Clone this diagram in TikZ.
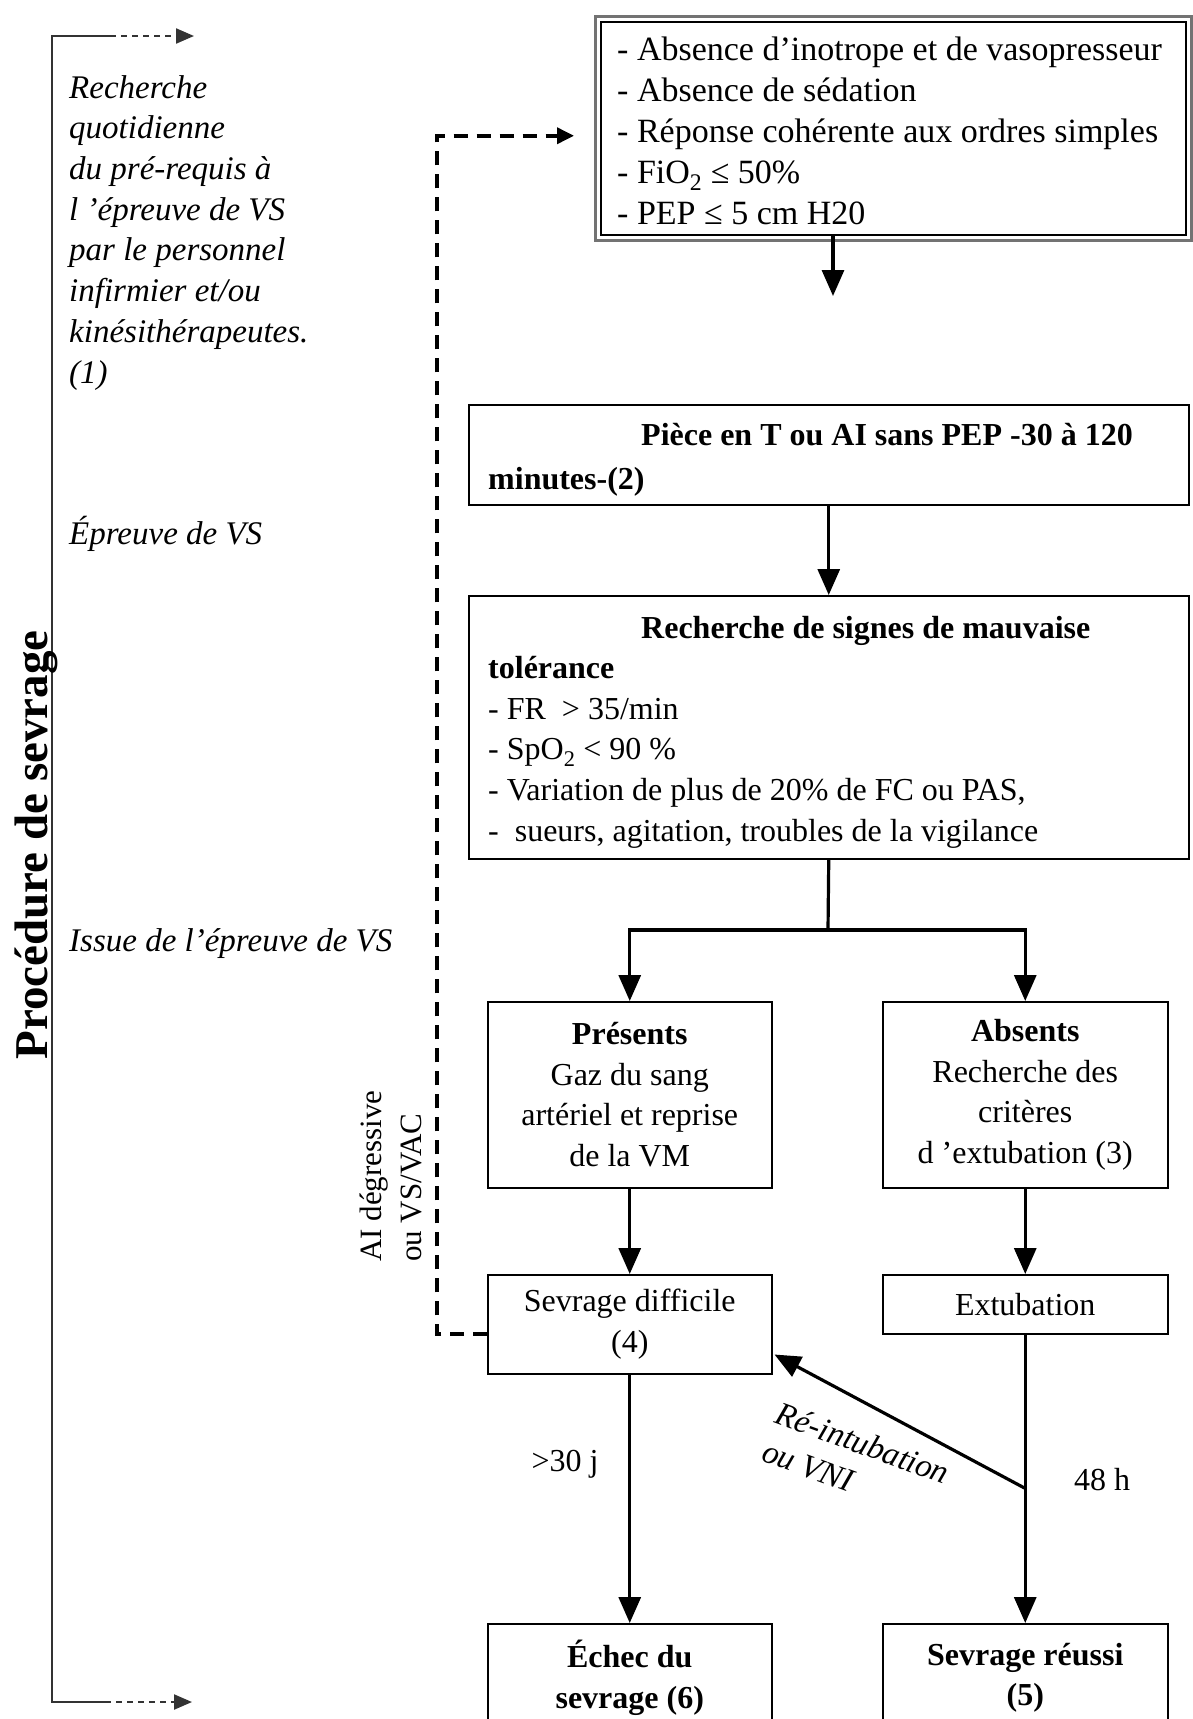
\documentclass[tikz,border=0pt]{standalone}
\usepackage{fontspec}
\setmainfont{Liberation Serif}
\usetikzlibrary{arrows.meta,calc}
\begin{document}
\begin{tikzpicture}[x=1pt,y=-1pt,
  box/.style={draw=black, line width=1.5pt, inner sep=0pt, align=center, font=\fontsize{32}{40.6}\selectfont},
  txt/.style={inner sep=0pt, align=left, anchor=base west, font=\fontsize{32}{40.6}\selectfont},
  itxt/.style={inner sep=0pt, align=left, anchor=base west, font=\fontsize{33}{40.7}\selectfont\itshape},
  lbl/.style={inner sep=0pt, font=\fontsize{32}{40}\selectfont},
  arr/.style={line width=3.2pt, -{Triangle[length=26pt,width=22pt]}},
  conn/.style={line width=3.2pt},
  fb/.style={line width=3.6pt, dash pattern=on 14pt off 9pt, -{Triangle[length=17pt,width=16pt]}},
  brk/.style={line width=2.2pt, draw=black!80},
]
\useasboundingbox (0,0) rectangle (1192,1719);

% left bracket
\coordinate (lt) at (52,36);
\coordinate (lb) at (52,1702);
\coordinate (ltm) at (110,36);
\coordinate (lte) at (194,36);
\coordinate (lbm) at (105,1702);
\coordinate (lbe) at (192,1702);
\draw[brk] (ltm) -- (lt) -- (lb) -- (lbm);
\draw[brk, dash pattern=on 6pt off 5pt, -{Triangle[length=18pt,width=15pt]}] (ltm) -- (lte);
\draw[brk, dash pattern=on 6pt off 5pt, -{Triangle[length=18pt,width=15pt]}] (lbm) -- (lbe);
\node[rotate=90, anchor=base, inner sep=0pt, font=\fontsize{47}{50}\selectfont\bfseries] (title) at (47,845) {Procédure de sevrage};

% left italic texts (base = last line)
\node[itxt] (l1) at (69,383) {Recherche\\quotidienne\\du pré-requis à\\l ’épreuve de VS\\par le personnel\\infirmier et/ou\\kinésithérapeutes.\\(1)};
\node[itxt] (l2) at (69,544) {Épreuve de VS};
\node[itxt] (l3) at (69,951) {Issue de l’épreuve de VS};

% top box
\node[box, minimum width=585pt, minimum height=213pt, anchor=north west] (top) at (600,21) {};
\draw[line width=3pt, black!55] ($(top.north west)+(-5,-5)$) rectangle ($(top.south east)+(5,5)$);
\node[txt, font=\fontsize{34}{41}\selectfont] (toptxt) at (617,224) {- Absence d’inotrope et de vasopresseur\\- Absence de sédation\\- Réponse cohérente aux ordres simples\\- FiO\textsubscript{2} ≤ 50\%\\- PEP ≤ 5 cm H20};
\coordinate (topend) at (833,296);
\draw[arr] (topend |- top.south) -- (topend);

% box 2
\node[box, minimum width=720pt, minimum height=100pt, anchor=north west] (b2) at (468,404) {};
\node[txt, font=\fontsize{32}{44}\selectfont\bfseries] (b2t) at (488,489) {\hspace*{153pt}Pièce en T ou AI sans PEP -30 à 120\\minutes-(2)};

% box 3
\node[box, minimum width=720pt, minimum height=263pt, anchor=north west] (b3) at (468,595) {};
\node[txt] (b3t) at (488,841) {\hspace*{153pt}\textbf{Recherche de signes de mauvaise}\\\textbf{tolérance}\\- FR\ \ > 35/min\\- SpO\textsubscript{2} < 90 \%\\- Variation de plus de 20\% de FC ou PAS,\\-\ \ sueurs, agitation, troubles de la vigilance};
\draw[arr] (b2.south) -- (b3.north);

% branches
\node[box, minimum width=284pt, minimum height=186pt, anchor=north west] (p) at (487,1001) {\textbf{Présents}\\Gaz du sang\\artériel et reprise\\de la VM};
\node[box, minimum width=285pt, minimum height=186pt, anchor=north west] (a) at (882,1001) {\textbf{Absents}\\Recherche des\\critères\\d ’extubation (3)};
\coordinate (br) at (828,930);
\draw[conn] (b3.south) -- (br);
\draw[arr] (br) -| (p.north);
\draw[arr] (br) -| (a.north);

\node[box, minimum width=284pt, minimum height=99pt, anchor=north west] (sd) at (487,1274) {Sevrage difficile\\(4)};
\node[box, minimum width=285pt, minimum height=59pt, anchor=north west] (ext) at (882,1274) {Extubation};
\draw[arr] (p.south) -- (sd.north);
\draw[arr] (a.south) -- (ext.north);

\node[box, minimum width=284pt, minimum height=108pt, anchor=north west] (ech) at (487,1623) {\textbf{Échec du}\\\textbf{sevrage (6)}};
\node[box, minimum width=285pt, minimum height=108pt, anchor=north west] (reu) at (882,1623) {\textbf{Sevrage réussi}\\\textbf{(5)}};
\draw[arr] (sd.south) -- (ech.north);
\draw[arr] (ext.south) -- (reu.north);
\node[lbl] (l30) at (565,1464) {>30 j};
\node[lbl] (l48) at (1102,1480) {48 h};

% re-intubation
\coordinate (j) at (1024.5,1488);
\draw[arr] (j) -- ([xshift=2pt,yshift=20pt]sd.south east);
\node[itxt, rotate=-20, font=\fontsize{33}{40}\selectfont\itshape] (reint) at (760,1460) {Ré-intubation\\ou VNI};

% feedback dashed
\draw[fb, shorten >=26pt] ([yshift=-10pt]sd.west) -- ++(-50,0) |- ([yshift=-7.5pt]top.west);
\node[txt, rotate=90, font=\fontsize{31}{40}\selectfont] (aid) at (421,1262) {AI dégressive\\ou VS/VAC};
\end{tikzpicture}
\end{document}
